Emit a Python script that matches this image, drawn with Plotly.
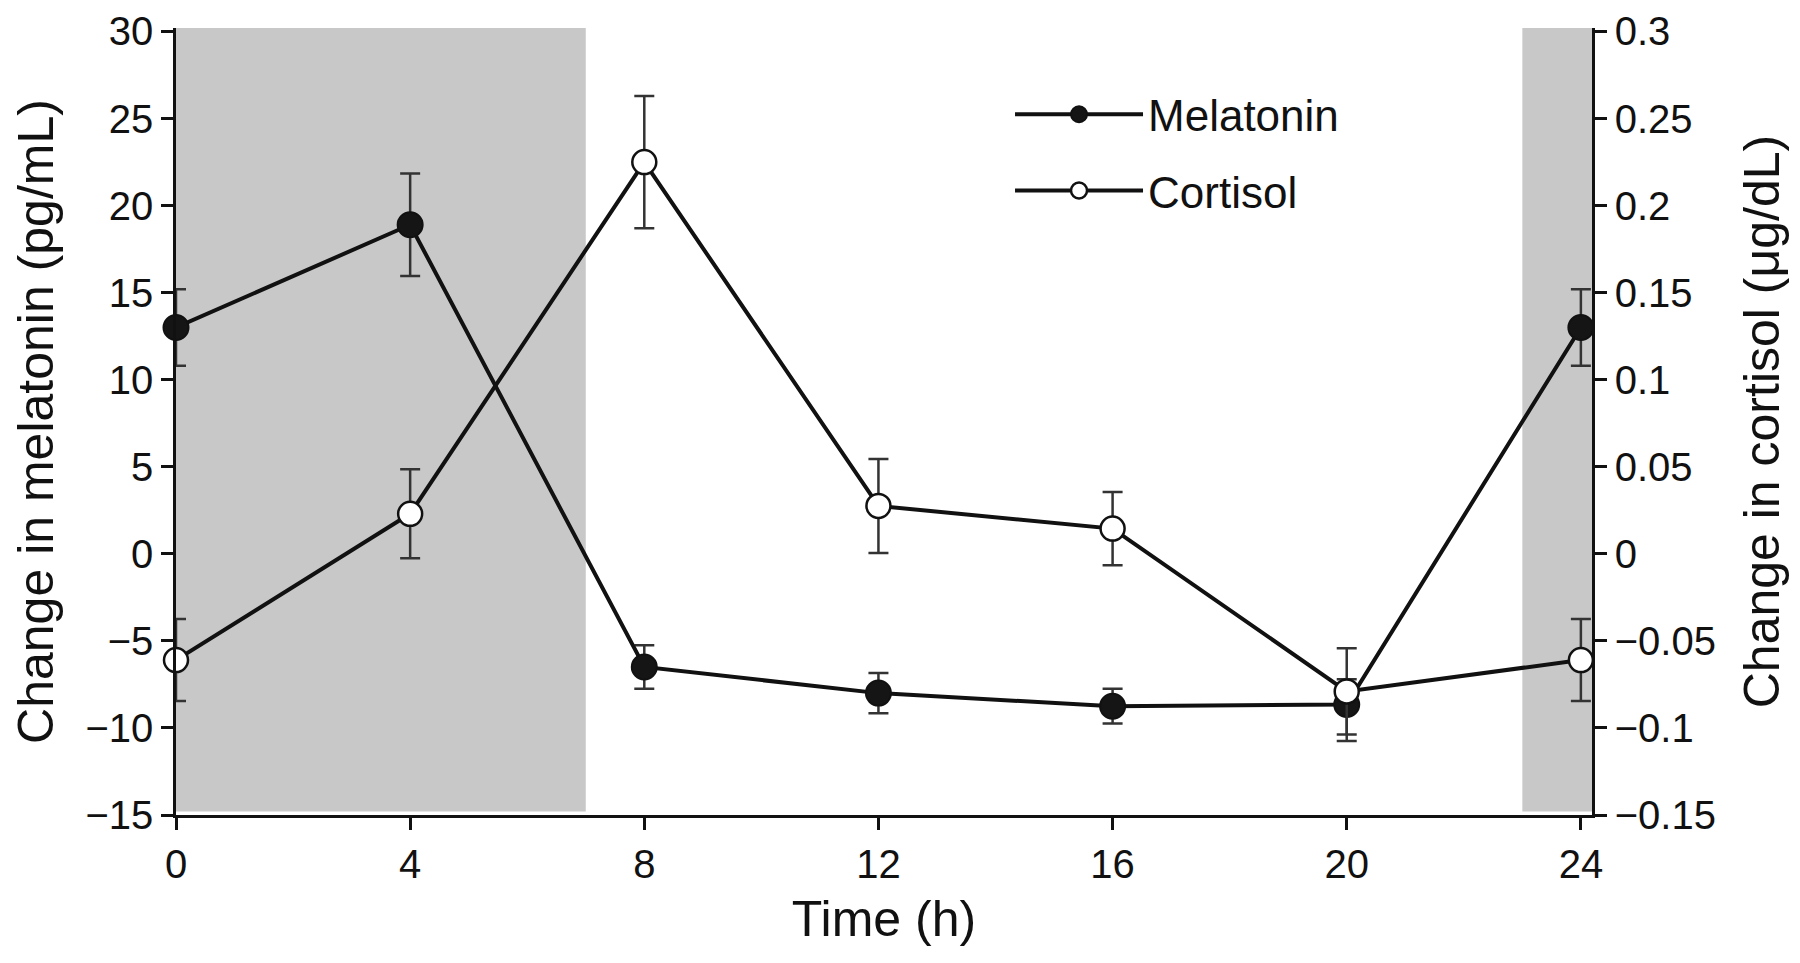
import plotly.graph_objects as go

# ---- data ----
time_h = [0, 4, 8, 12, 16, 20, 24]
melatonin = [13.0, 18.9, -6.5, -8.0, -8.75, -8.65, 13.0]
melatonin_err_plus = [2.2, 2.95, 1.25, 1.15, 1.0, 1.45, 2.2]
melatonin_err_minus = [2.2, 2.95, 1.25, 1.15, 1.0, 2.1, 2.2]
cortisol = [-0.061, 0.023, 0.225, 0.0275, 0.0145, -0.079, -0.061]
cortisol_err = [0.0235, 0.0256, 0.038, 0.027, 0.021, 0.0247, 0.0235]
dark_periods = [(0, 7), (23, 24.19)]
x_ticks = [0, 4, 8, 12, 16, 20, 24]
left_ticks = [-15, -10, -5, 0, 5, 10, 15, 20, 25, 30]
right_ticks = [-0.15, -0.1, -0.05, 0, 0.05, 0.1, 0.15, 0.2, 0.25, 0.3]
right_ticktext = ["\u22120.15", "\u22120.1", "\u22120.05", "0", "0.05", "0.1", "0.15", "0.2", "0.25", "0.3"]

FONT = "Liberation Sans, Arial, Helvetica, sans-serif"
X_MAX = 24.19
Y_MIN, Y_MAX = -15, 30.2

fig = go.Figure()

fig.add_trace(go.Scatter(
    x=time_h, y=melatonin, name="Melatonin", mode="lines+markers",
    line=dict(color="#111111", width=4),
    marker=dict(symbol="circle", size=25, color="#151515", line=dict(color="#111111", width=2)),
    error_y=dict(type="data", symmetric=False, array=melatonin_err_plus, arrayminus=melatonin_err_minus,
                 color="#333333", thickness=2.5, width=10),
    cliponaxis=False, legendgroup="m", yaxis="y",
))
fig.add_trace(go.Scatter(
    x=time_h, y=cortisol, name="Cortisol", mode="lines+markers",
    line=dict(color="#111111", width=4),
    marker=dict(symbol="circle", size=24, color="white", line=dict(color="#111111", width=2.5)),
    error_y=dict(type="data", array=cortisol_err, color="#333333", thickness=2.5, width=10),
    cliponaxis=False, legendgroup="c", yaxis="y2",
))

for (a, b) in dark_periods:
    fig.add_shape(type="rect", xref="x", yref="y", x0=a, x1=b, y0=-14.8, y1=Y_MAX,
                  fillcolor="#c8c8c8", line=dict(width=0), layer="below")

axis_common = dict(showgrid=False, zeroline=False, showline=True, linecolor="#111111", linewidth=2.5,
                   ticks="outside", ticklen=12, tickwidth=2.5, tickcolor="#111111",
                   tickfont=dict(family=FONT, size=40, color="#111111"))

fig.update_layout(
    width=1800, height=963,
    paper_bgcolor="white", plot_bgcolor="white",
    margin=dict(l=168, r=216, t=20, b=156, autoexpand=False),
    font=dict(family=FONT, color="#111111"),
    xaxis=dict(range=[0, X_MAX], tickvals=x_ticks, title=dict(text="Time (h)", font=dict(size=50), standoff=17),
               **axis_common),
    yaxis=dict(range=[Y_MIN, Y_MAX], tickvals=left_ticks,
               title=dict(text="Change in melatonin (pg/mL)", font=dict(size=50), standoff=26),
               **axis_common),
    yaxis2=dict(range=[Y_MIN / 100, Y_MAX / 100], overlaying="y", side="right", anchor="x",
                tickvals=right_ticks, ticktext=right_ticktext,
                title=dict(text="Change in cortisol (\u03bcg/dL)", font=dict(size=50), standoff=30),
                **axis_common),
    showlegend=True,
    legend=dict(x=0.589, y=0.935, xanchor="left", yanchor="top", bgcolor="rgba(0,0,0,0)",
                font=dict(family=FONT, size=44, color="#111111"), itemwidth=128, tracegroupgap=16,
                traceorder="grouped"),
)

fig.write_html("out.html")
